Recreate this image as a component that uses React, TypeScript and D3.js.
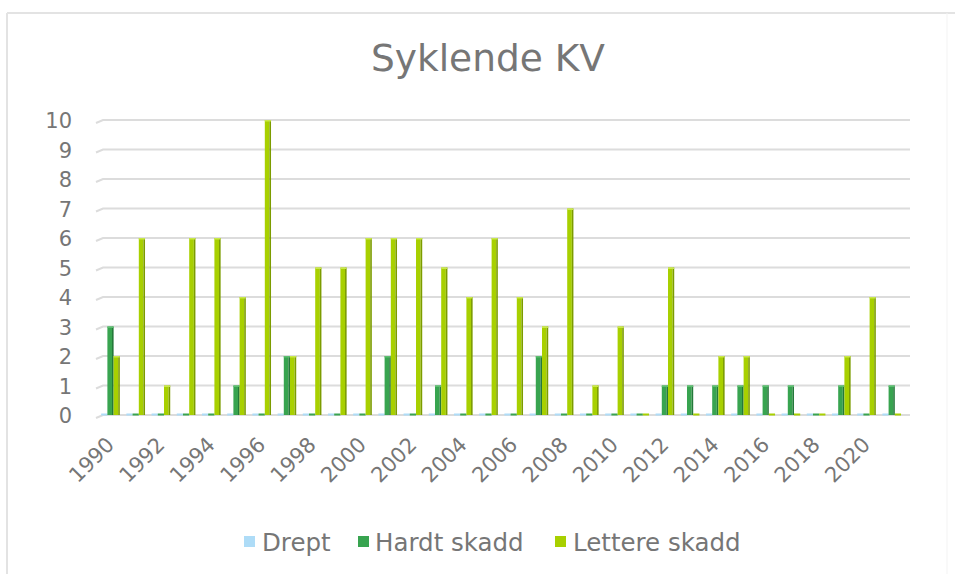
import React from "react";
import * as d3 from "d3";

const years: string[] = Array.from({ length: 32 }, (_, i) => String(1990 + i));
const seriesNames: string[] = ["Drept", "Hardt skadd", "Lettere skadd"];
const drept: number[] = [0,0,0,0,0,0,0,0,0,0,0,0,0,0,0,0,0,0,0,0,0,0,0,0,0,0,0,0,0,0,0,0];
const hardt: number[] = [3,0,0,0,0,1,0,2,0,0,0,2,0,1,0,0,0,2,0,0,0,0,1,1,1,1,1,1,0,1,0,1];
const lettere: number[] = [2,6,1,6,6,4,10,2,5,5,6,6,6,5,4,6,4,3,7,1,3,0,5,0,2,2,0,0,0,2,4,0];
const yTicks: number[] = [0,1,2,3,4,5,6,7,8,9,10];
const xLabels: string[] = years.filter((_, i) => i % 2 === 0);

const colors = [
  { front: "#aedcf7", side: "#8fc2e0", top: "#c9e9fb" },
  { front: "#38a450", side: "#24793a", top: "#5cbf70" },
  { front: "#a8d000", side: "#7c9c00", top: "#c9e84a" },
];

export default function App() {
  const W = 955, H = 574;
  const y = d3.scaleLinear().domain([0, 10]).range([415, 120]);
  const x = d3.scaleBand<string>().domain(years).range([97.9, 904.3]).paddingInner(0.26).paddingOuter(0.13);
  const inner = d3.scaleBand<number>().domain([0, 1, 2]).range([0, x.bandwidth()]);
  const data = [drept, hardt, lettere];
  const textColor = "#767676";
  const font = "'DejaVu Sans', Verdana, sans-serif";
  const side = 1.6;

  const legendItems = [
    { sx: 244, tx: 262 },
    { sx: 358, tx: 375 },
    { sx: 555, tx: 573 },
  ];

  return (
    <svg width={W} height={H} style={{ position: "absolute", left: 0, top: 0, background: "#fff" }} fontFamily={font}>
      <rect x={0} y={0} width={W} height={H} fill="#fff" />
      {/* chart border */}
      <line x1={7} y1={13} x2={W} y2={13} stroke="#e3e3e3" strokeWidth={2} />
      <line x1={7} y1={13} x2={7} y2={H} stroke="#e3e3e3" strokeWidth={2} />
      <line x1={947} y1={13} x2={947} y2={H} stroke="#f3f3f3" strokeWidth={1} />

      <text x={488} y={71} textAnchor="middle" fontSize={37.5} fill={textColor}>Syklende KV</text>

      {/* gridlines */}
      {yTicks.map((t) => (
        <g key={"g" + t}>
          <path d={`M96,${y(t) + 3} L103,${y(t)} L910,${y(t)}`} fill="none" stroke="#dcdcdc" strokeWidth={2} />
          <text x={72} y={y(t) + 8} textAnchor="end" fontSize={21} fill={textColor}>{t}</text>
        </g>
      ))}

      {/* bars */}
      {years.map((yr, i) => (
        <g key={yr}>
          {data.map((arr, s) => {
            const v = arr[i];
            const bx = (x(yr) as number) + (inner(s) as number);
            const bw = inner.bandwidth();
            const c = colors[s];
            if (v === 0) {
              return <rect key={s} x={bx} y={y(0) - 1.5} width={bw} height={2} fill={c.front} />;
            }
            const top = y(v);
            const h = y(0) - top;
            return (
              <g key={s}>
                <rect x={bx} y={top} width={bw - side} height={h} fill={c.front} />
                <rect x={bx + bw - side} y={top} width={side} height={h} fill={c.side} />
                <rect x={bx} y={top} width={bw} height={1.5} fill={c.top} />
              </g>
            );
          })}
        </g>
      ))}

      {/* x labels */}
      {xLabels.map((l) => {
        const cx = (x(l) as number) + x.bandwidth() / 2;
        return (
          <text key={l} transform={`translate(${cx + 5},${446}) rotate(-45)`} textAnchor="end" fontSize={21} fill={textColor}>{l}</text>
        );
      })}

      {/* legend */}
      {seriesNames.map((n, s) => (
        <g key={n}>
          <rect x={legendItems[s].sx} y={536} width={11} height={11} fill={colors[s].front} />
          <text x={legendItems[s].tx} y={551} fontSize={24.5} fill={textColor}>{n}</text>
        </g>
      ))}
    </svg>
  );
}
